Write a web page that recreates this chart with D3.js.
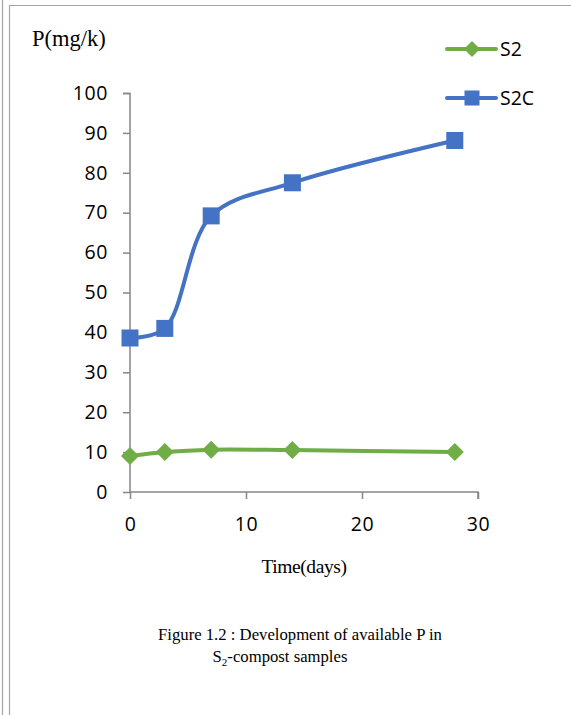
<!DOCTYPE html>
<html>
<head>
<meta charset="utf-8">
<script src="https://cdn.jsdelivr.net/npm/d3@7"></script>
<style>
  body { margin: 0; background: #fff; }
  svg { display: block; }
</style>
</head>
<body>
<svg id="chart" width="571" height="715"></svg>
<script>
const days = [0, 3, 7, 14, 28]
const s2 = [9.0, 10.0, 10.6, 10.5, 10.0]
const s2c = [38.6, 41.0, 69.2, 77.5, 88.1]
const seriesNames = ['S2', 'S2C']
const xTicks = [0, 10, 20, 30]
const yTicks = [0, 10, 20, 30, 40, 50, 60, 70, 80, 90, 100]

const svg = d3.select('#chart')
const green = '#70ad47'
const blue = '#4472c4'
const sans = 'Open Sans, Liberation Sans, sans-serif'
const serif = 'Liberation Serif, Times New Roman, serif'

// page borders
svg.append('line').attr('x1', 2.5).attr('x2', 2.5).attr('y1', 0).attr('y2', 715)
    .attr('stroke', '#a6a6a6').attr('stroke-width', 1.2)
svg.append('line').attr('x1', 9.5).attr('x2', 9.5).attr('y1', 5).attr('y2', 715)
    .attr('stroke', '#a6a6a6').attr('stroke-width', 1.2)
svg.append('line').attr('x1', 9.5).attr('x2', 571).attr('y1', 5.5).attr('y2', 5.5)
    .attr('stroke', '#a6a6a6').attr('stroke-width', 1.2)

const x = d3.scaleLinear().domain([0, 30]).range([130, 478])
const y = d3.scaleLinear().domain([0, 100]).range([492, 93])

const yAxis = svg.append('g')
    .attr('transform', 'translate(130,0)')
    .call(d3.axisLeft(y).tickValues(yTicks).tickSize(7).tickPadding(15))
const xAxis = svg.append('g')
    .attr('transform', 'translate(0,492)')
    .call(d3.axisBottom(x).tickValues(xTicks).tickSize(7).tickPadding(18))

;[xAxis, yAxis].forEach(ax => {
    ax.select('.domain').attr('stroke', '#868686').attr('stroke-width', 1.5)
    ax.selectAll('.tick line').attr('stroke', '#868686').attr('stroke-width', 1.5)
    ax.selectAll('.tick text').attr('fill', '#000')
        .style('font-family', sans)
        .style('font-size', '19.5px')
        .style('letter-spacing', '0.6px')
})
yAxis.select('.domain').attr('d', 'M-7,93.5H0V492')
xAxis.select('.domain').attr('d', 'M130,0H478V7')

const line = d3.line()
    .x(d => x(d[0]))
    .y(d => y(d[1]))
    .curve(d3.curveCatmullRom.alpha(0.5))

const diamond = (g, cx, cy, r) => {
    g.append('path')
        .attr('d', `M${cx},${cy - r}L${cx + r},${cy}L${cx},${cy + r}L${cx - r},${cy}Z`)
        .attr('fill', green)
}
const square = (g, cx, cy, s) => {
    g.append('rect')
        .attr('x', cx - s / 2).attr('y', cy - s / 2)
        .attr('width', s).attr('height', s)
        .attr('fill', blue)
}

const ptsS2 = days.map((d, i) => [d, s2[i]])
const ptsS2C = days.map((d, i) => [d, s2c[i]])

svg.append('path').attr('d', line(ptsS2)).attr('fill', 'none')
    .attr('stroke', green).attr('stroke-width', 4).attr('stroke-linecap', 'round')
svg.append('path').attr('d', line(ptsS2C)).attr('fill', 'none')
    .attr('stroke', blue).attr('stroke-width', 4).attr('stroke-linecap', 'round')

const marks = svg.append('g')
ptsS2.forEach(p => diamond(marks, x(p[0]), y(p[1]), 9))
ptsS2C.forEach(p => square(marks, x(p[0]), y(p[1]), 17))

// legend
const legend = svg.append('g')
const legendY = [49, 98]
seriesNames.forEach((name, i) => {
    const col = i === 0 ? green : blue
    legend.append('line').attr('x1', 447).attr('x2', 496)
        .attr('y1', legendY[i]).attr('y2', legendY[i])
        .attr('stroke', col).attr('stroke-width', 4).attr('stroke-linecap', 'round')
    if (i === 0) diamond(legend, 472, legendY[i], 8)
    else square(legend, 472, legendY[i], 15)
    legend.append('text').attr('x', 500).attr('y', legendY[i] + 7)
        .text(name)
        .style('font-family', sans)
        .style('font-size', '19.5px')
})

svg.append('text').attr('x', 32).attr('y', 46).text('P(mg/k)')
    .style('font-family', serif).style('font-size', '22.5px')

svg.append('text').attr('x', 304).attr('y', 573).attr('text-anchor', 'middle')
    .text('Time(days)')
    .style('font-family', serif).style('font-size', '19.5px')
    .style('letter-spacing', '-0.4px')

svg.append('text').attr('x', 300).attr('y', 640).attr('text-anchor', 'middle')
    .text('Figure 1.2 : Development of available P in')
    .style('font-family', serif).style('font-size', '16.7px')

const cap2 = svg.append('text').attr('x', 280).attr('y', 662).attr('text-anchor', 'middle')
    .style('font-family', serif).style('font-size', '16.7px')
cap2.append('tspan').text('S')
cap2.append('tspan').attr('dy', 4).style('font-size', '11px').text('2')
cap2.append('tspan').attr('dy', -4).text('-compost samples')
</script>
</body>
</html>
